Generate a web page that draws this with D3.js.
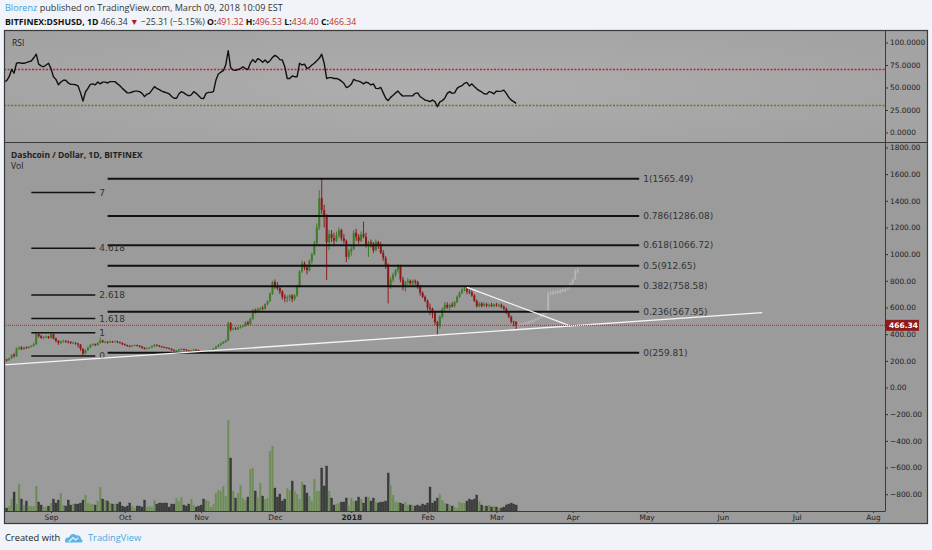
<!DOCTYPE html>
<html>
<head>
<meta charset="utf-8">
<script src="https://cdn.jsdelivr.net/npm/d3@7"></script>
<style>
  body { margin: 0; background: #f0f3f7; }
  svg { display: block; }
  .axis text { font-family: "DejaVu Sans", sans-serif; font-size: 7.4px; fill: #1e1e1e; }
  .axis line { stroke: #333; }
  .axis path { display: none; }
  .fib-label { font-family: "DejaVu Sans", sans-serif; font-size: 9px; fill: #333; }
</style>
</head>
<body>
<svg id="chart"></svg>
<script>
/* global d3 */

// ---- data ----------------------------------------------------------------
// daily candles from 13 Aug 2017 to 9 Mar 2018: [open, high, low, close]
var ohlc = [
  [195,215,190,210],[210,215,195,205],[205,225,200,218],[218,250,215,245],[245,260,225,235],
  [235,300,230,292],[292,310,280,300],[300,310,280,288],[288,305,282,300],[300,308,290,296],
  [296,312,292,306],[306,318,300,312],[312,335,305,325],[325,410,320,402],[402,405,375,385],
  [385,395,365,372],[372,385,362,378],[378,390,370,382],[382,388,365,372],
  // Sep
  [372,410,368,400],[400,405,360,368],[368,375,340,350],[350,355,320,335],[335,352,325,345],
  [345,358,335,350],[350,355,335,345],[345,352,330,340],[340,348,325,335],[335,345,325,336],
  [336,340,320,330],[330,335,300,322],[322,325,275,290],[290,295,240,255],[255,285,250,280],
  [280,305,275,300],[300,325,295,320],[320,332,312,325],[325,330,310,318],[318,340,315,335],
  [335,375,330,352],[352,358,335,340],[340,350,332,342],[342,348,330,338],[338,352,335,345],
  [345,350,335,342],[342,352,338,346],[346,350,332,340],[340,345,328,334],[334,338,318,325],
  // Oct
  [325,330,312,318],[318,322,305,312],[312,318,302,310],[310,320,305,315],[315,322,310,318],
  [318,322,308,314],[314,318,300,308],[308,312,290,298],[298,302,285,290],[290,300,286,295],
  [295,305,290,300],[300,315,296,310],[310,325,305,320],[320,324,308,314],[314,318,302,308],
  [308,312,298,304],[304,308,295,300],[300,304,290,296],[296,300,285,290],[290,294,276,282],
  [282,286,270,275],[275,282,268,276],[276,290,272,286],[286,294,280,288],[288,292,278,284],
  [284,288,272,278],[278,282,268,274],[274,282,270,277],[277,290,274,284],[284,288,274,280],
  [280,284,268,272],
  // Nov
  [272,276,262,268],[268,272,258,264],[264,280,262,276],[276,282,268,278],[278,284,270,280],
  [280,295,276,290],[290,312,286,305],[305,325,300,318],[318,338,312,330],[330,348,325,340],
  [340,362,335,352],[352,495,348,482],[482,490,420,436],[436,452,428,442],[442,455,432,438],
  [438,458,432,450],[450,465,442,458],[458,470,448,462],[462,495,455,488],[488,500,468,475],
  [475,525,470,515],[515,590,508,578],[578,592,555,566],[566,600,558,590],[590,605,572,595],
  [595,612,580,590],[590,632,585,625],[625,655,615,648],[648,712,640,705],[705,800,695,792],
  // Dec
  [792,810,740,760],[760,790,730,745],[745,760,700,720],[720,730,660,680],[680,700,640,670],
  [670,690,640,675],[675,700,650,690],[690,700,640,665],[665,700,650,690],[690,770,680,760],
  [760,880,750,870],[870,950,860,930],[930,945,880,900],[900,920,850,880],[880,960,870,950],
  [950,1010,930,1000],[1000,1100,990,1080],[1080,1230,1070,1200],[1200,1480,1180,1420],[1420,1565.49,1300,1330],
  [1330,1370,1200,1280],[1280,1300,806,1090],[1090,1180,1030,1150],[1150,1180,1090,1120],[1120,1160,1060,1100],
  [1100,1170,1090,1140],[1140,1200,1120,1180],[1180,1190,1100,1120],[1120,1150,1080,1100],[1100,1110,940,980],
  [980,1040,960,1020],
  // Jan
  [1020,1060,990,1040],[1040,1180,1030,1160],[1160,1190,1100,1130],[1130,1150,1080,1100],[1100,1170,1090,1150],
  [1150,1244,1120,1130],[1130,1160,1050,1070],[1070,1100,980,1090],[1090,1110,1050,1080],[1080,1090,1010,1030],
  [1030,1110,1020,1090],[1090,1100,1040,1060],[1060,1090,1000,1010],[1010,1030,950,970],[970,985,890,920],
  [920,930,631,760],[760,830,740,810],[810,860,790,845],[845,890,830,880],[880,925,860,915],
  [915,920,790,810],[810,830,730,760],[760,800,720,790],[790,820,770,800],[800,810,770,780],
  [780,810,760,800],[800,810,770,790],[790,800,740,760],[760,770,690,710],[710,720,670,680],
  [680,690,640,650],
  // Feb
  [650,660,580,600],[600,630,545,590],[590,600,520,560],[560,570,470,490],[490,500,394,460],
  [460,540,440,530],[530,600,520,590],[590,640,570,620],[620,640,590,600],[600,630,580,620],
  [620,640,600,610],[610,650,600,640],[640,690,630,680],[680,720,670,710],[710,745,700,735],
  [735,755,720,740],[740,750,700,720],[720,745,700,715],[715,730,680,690],[690,700,640,650],
  [650,660,600,610],[610,640,600,630],[630,640,600,612],[612,640,605,625],[625,635,600,615],
  [615,630,600,620],[620,635,605,610],[610,630,600,622],
  // Mar
  [622,635,605,615],[615,630,600,620],[620,630,595,605],[605,615,580,590],[590,600,550,560],
  [560,570,520,530],[530,540,480,495],[495,500,460,491.32],[491.32,496.53,434.40,466.34]
];

// daily volume, same days as the candles
var volume = [
  3,3,5,12,19,7,27,12,6,10,5,5,5,25,9,6,4,4,5,
  8,12,8,11,18,6,5,11,6,7,7,7,8,11,16,8,7,7,6,10,24,12,11,10,8,7,7,7,9,5,
  4,5,8,5,3,5,5,4,11,4,5,4,11,7,8,8,8,8,4,7,7,13,10,14,6,5,7,12,6,4,5,
  6,12,11,10,4,7,18,21,20,25,15,91,53,20,13,18,26,13,11,14,42,43,20,14,28,15,12,13,60,65,
  23,14,17,10,12,23,21,30,20,17,12,29,26,18,15,10,32,20,20,43,25,45,20,13,6,7,8,9,9,13,5,
  13,10,10,14,12,8,14,14,10,13,9,8,9,9,10,38,26,16,9,9,8,7,9,6,6,6,5,6,5,7,6,
  8,24,8,10,13,17,11,8,7,6,5,4,3,9,8,8,10,12,11,12,16,10,6,5,5,6,4,5,
  4,3,3,4,6,7,8,7,6
];

// RSI(14), same days as the candles
var rsi = [
  56.5,57.6,62,70,66,77,77.6,77,77,77.6,78.7,79.4,83,87,76,74,73,75,77,
  71,62,59,53,56,58,58,55,53.5,53.5,53,51.7,44,35,45,49,53.5,54,53,56,54,56,56,55,56.5,56.5,56.5,54,52,49,
  46.5,44,44,45,46,46,45.4,43.5,40,42.6,43.5,47,51,49,47.6,46,45,44,43,40,38,38,43,45.4,44,42,40.7,41.7,45.4,43.5,40.7,
  38,37.6,43.5,44.6,44.6,45.4,58,65,67,68.7,75,91,72,69.4,69,70,71,73,71,70,77,81,78,82,80.6,78,80.6,77.6,79.8,83.5,
  85.7,84,81,80.6,73,60,60,62.8,62,62,77,75,76,71,72.4,75,77,79.8,82.4,87,77,60,61,61,60,60,59,57,54.6,50,51,
  53.5,59,57.6,57,56,54,56,55,52.8,54,49,48.7,50,44,38,35.4,39,41.3,44,46,42.6,40.4,40.7,40.7,40.7,40.7,43.5,44,39.8,38,36,
  35.4,34.3,36,34.3,28.7,34,35.4,38,43.5,45.4,43.5,44,49,51,52,54.6,55.7,51.7,54,51,48.5,46.5,45,43,42.6,45.4,44.6,43,
  46,45.7,46,47,43.5,39,36,34.3,32.4
];

// projected "bars pattern" drawn after the last candle
var ghost = [
  [466,490,455,475],[475,485,462,470],[470,488,465,482],[482,492,470,478],[478,500,472,495],
  [495,505,485,490],[490,510,486,505],[505,520,498,515],[515,530,505,525],[525,545,518,540],
  [540,560,530,555],[555,575,545,565],[565,720,560,705],[705,725,690,712],[712,730,695,705],
  [705,728,700,720],[720,735,705,712],[712,738,708,730],[730,742,715,722],[722,745,718,738],
  [738,760,730,752],[752,790,745,780],[780,820,770,810],[810,890,805,875],[875,895,855,870]
];

var fibLevels = [1, 0.786, 0.618, 0.5, 0.382, 0.236, 0];
var fibValues = [1565.49, 1286.08, 1066.72, 912.65, 758.58, 567.95, 259.81];
var extLabels = ["0", "1", "1.618", "2.618", "4.618", "7"];
var extValues = [236, 411, 518, 694, 1044, 1462];

var priceTicks = [-800, -600, -400, -200, 0, 200, 400, 600, 800, 1000, 1200, 1400, 1600, 1800];
var rsiTicks = [0, 25, 50, 75, 100];
var lastPrice = 466.34;

// ---- layout --------------------------------------------------------------
var width = 932, height = 550,
  frame = { left: 4, right: 928, top: 30, bottom: 524 },
  axisX = 885,
  rsiBottom = 142,
  timeY = 511;

var svg = d3.select("#chart").attr("width", width).attr("height", height);

var startDay = new Date(2017, 7, 13);
var days = d3.timeDay.range(startDay, d3.timeDay.offset(startDay, ohlc.length));
var ghostDays = d3.timeDay.range(d3.timeDay.offset(startDay, ohlc.length),
  d3.timeDay.offset(startDay, ohlc.length + ghost.length));

var x = d3.scaleTime()
  .domain([new Date(2017, 7, 12, 21, 40), new Date(2018, 7, 5, 21)])
  .range([frame.left, axisX]);
var yP = d3.scaleLinear().domain([-926, 1841]).range([timeY, rsiBottom]);
var yR = d3.scaleLinear().domain([-10.6, 113.9]).range([rsiBottom, frame.top]);
var yV = d3.scaleLinear().domain([0, 100]).range([timeY, timeY - 100]);

// header
var head = svg.append("text")
  .attr("x", 5).attr("y", 11)
  .style("font-family", "'Open Sans', sans-serif").style("font-size", "9.1px").style("fill", "#333");
head.append("tspan").style("fill", "#3d9fdc").text("Blorenz");
head.append("tspan").text(" published on TradingView.com, March 09, 2018 10:09 EST");

var head2 = svg.append("text")
  .attr("x", 5).attr("y", 24.5)
  .style("font-family", "'Open Sans', sans-serif").style("font-size", "8.7px").style("fill", "#333");
head2.append("tspan").style("font-weight", "bold").style("fill", "#111").text("BITFINEX:DSHUSD, 1D");
head2.append("tspan").text(" 466.34 ");
head2.append("tspan").style("fill", "#b01c1c").text("\u25BC");
head2.append("tspan").text(" \u221225.31 (\u22125.15%) ");
[["O:", "491.32"], ["H:", "496.53"], ["L:", "434.40"], ["C:", "466.34"]].forEach(function (p, i) {
  head2.append("tspan").style("font-weight", "bold").style("fill", "#111").text((i ? " " : "") + p[0]);
  head2.append("tspan").style("fill", "#c0312b").text(p[1]);
});

// panels
var defs = svg.append("defs");
var grad = defs.append("radialGradient").attr("id", "rsiBg").attr("cx", "50%").attr("cy", "50%").attr("r", "70%");
grad.append("stop").attr("offset", "0%").attr("stop-color", "#aeaeae");
grad.append("stop").attr("offset", "100%").attr("stop-color", "#a1a1a1");

svg.append("rect").attr("x", frame.left).attr("y", frame.top)
  .attr("width", frame.right - frame.left).attr("height", frame.bottom - frame.top)
  .attr("fill", "#9b9b9b");
svg.append("rect").attr("x", frame.left).attr("y", frame.top)
  .attr("width", axisX - frame.left).attr("height", rsiBottom - frame.top)
  .attr("fill", "url(#rsiBg)");
svg.append("rect").attr("x", axisX).attr("y", frame.top)
  .attr("width", frame.right - axisX).attr("height", rsiBottom - frame.top)
  .attr("fill", "#a3a3a3");

defs.append("clipPath").attr("id", "clipMain").append("rect")
  .attr("x", frame.left).attr("y", rsiBottom).attr("width", axisX - frame.left).attr("height", timeY - rsiBottom);
defs.append("clipPath").attr("id", "clipRsi").append("rect")
  .attr("x", frame.left).attr("y", frame.top).attr("width", axisX - frame.left).attr("height", rsiBottom - frame.top);

// ---- RSI pane ------------------------------------------------------------
var rsiG = svg.append("g").attr("clip-path", "url(#clipRsi)");
rsiG.append("line").attr("x1", frame.left).attr("x2", axisX)
  .attr("y1", yR(70)).attr("y2", yR(70))
  .attr("stroke", "#c41f2f").attr("stroke-width", 1.3).attr("stroke-dasharray", "2,1.5");
rsiG.append("line").attr("x1", frame.left).attr("x2", axisX)
  .attr("y1", yR(30)).attr("y2", yR(30))
  .attr("stroke", "#66782e").attr("stroke-width", 1.3).attr("stroke-dasharray", "2,1.5");
rsiG.append("path").datum(rsi)
  .attr("fill", "none").attr("stroke", "#111").attr("stroke-width", 1.4)
  .attr("stroke-linejoin", "round")
  .attr("d", d3.line().x(function (d, i) { return x(days[i]); }).y(function (d) { return yR(d); }));

svg.append("text").attr("x", 12).attr("y", 45.5)
  .style("font-family", "'Open Sans', sans-serif").style("font-size", "8.5px").style("fill", "#222")
  .text("RSI");

svg.append("g").attr("class", "axis")
  .attr("transform", "translate(" + axisX + ",0)")
  .call(d3.axisRight(yR).tickValues(rsiTicks).tickFormat(d3.format(".4f")).tickSize(3).tickPadding(2));

// ---- main pane -----------------------------------------------------------
var main = svg.append("g").attr("clip-path", "url(#clipMain)");

// volume
main.append("g").selectAll("rect").data(volume).enter().append("rect")
  .attr("x", function (d, i) { return x(days[i]) - 1; })
  .attr("width", 2)
  .attr("y", function (d) { return yV(d); })
  .attr("height", function (d) { return yV(0) - yV(d); })
  .attr("fill", function (d, i) { return ohlc[i][3] >= ohlc[i][0] ? "#6e8c58" : "#3b3d3b"; })
  .attr("stroke", function (d, i) { return ohlc[i][3] >= ohlc[i][0] ? "#7f9a6a" : "#2a2a2a"; })
  .attr("stroke-width", 0.3);

function drawCandles(g, rows, dates, up, down) {
  var c = g.append("g").selectAll("g").data(rows).enter().append("g");
  c.append("line")
    .attr("x1", function (d, i) { return x(dates[i]); })
    .attr("x2", function (d, i) { return x(dates[i]); })
    .attr("y1", function (d) { return yP(d[1]); })
    .attr("y2", function (d) { return yP(d[2]); })
    .attr("stroke", function (d) { return d[3] >= d[0] ? up : down; })
    .attr("stroke-width", 1);
  c.append("rect")
    .attr("x", function (d, i) { return x(dates[i]) - 1; })
    .attr("width", 2)
    .attr("y", function (d) { return yP(Math.max(d[0], d[3])); })
    .attr("height", function (d) { return Math.max(0.8, Math.abs(yP(d[0]) - yP(d[3]))); })
    .attr("fill", function (d) { return d[3] >= d[0] ? up : down; });
}

drawCandles(main, ghost, ghostDays, "#b4b4b4", "#bcbcbc");
drawCandles(main, ohlc, days, "#3e7d27", "#8e1b1b");

// fib retracement
var fibStart = new Date(2017, 8, 24), fibEnd = new Date(2018, 3, 28);
main.append("g").selectAll("line").data(fibValues).enter().append("line")
  .attr("x1", x(fibStart)).attr("x2", x(fibEnd))
  .attr("y1", function (d) { return yP(d); }).attr("y2", function (d) { return yP(d); })
  .attr("stroke", "#111").attr("stroke-width", 2);
main.append("g").selectAll("text").data(fibValues).enter().append("text")
  .attr("class", "fib-label")
  .attr("x", x(fibEnd) + 4).attr("y", function (d) { return yP(d); }).attr("dy", "0.35em")
  .text(function (d, i) { return fibLevels[i] + "(" + d.toFixed(2) + ")"; });

// fib extension
var extStart = new Date(2017, 7, 24), extEnd = new Date(2017, 8, 19);
main.append("g").selectAll("line").data(extValues).enter().append("line")
  .attr("x1", x(extStart)).attr("x2", x(extEnd))
  .attr("y1", function (d) { return yP(d); }).attr("y2", function (d) { return yP(d); })
  .attr("stroke", "#111").attr("stroke-width", 1.6);
main.append("g").selectAll("text").data(extValues).enter().append("text")
  .attr("class", "fib-label")
  .attr("x", x(extEnd) + 4).attr("y", function (d) { return yP(d); }).attr("dy", "0.35em")
  .text(function (d, i) { return extLabels[i]; });

// trend lines
var trends = [
  [[new Date(2017, 7, 13), 169], [new Date(2018, 5, 17), 561]],
  [[new Date(2018, 1, 17), 751], [new Date(2018, 2, 31), 463]]
];
main.append("g").selectAll("line").data(trends).enter().append("line")
  .attr("x1", function (d) { return x(d[0][0]); }).attr("y1", function (d) { return yP(d[0][1]); })
  .attr("x2", function (d) { return x(d[1][0]); }).attr("y2", function (d) { return yP(d[1][1]); })
  .attr("stroke", "#f4f4f4").attr("stroke-width", 1.3);

// last price line
main.append("line").attr("x1", frame.left).attr("x2", axisX)
  .attr("y1", yP(lastPrice)).attr("y2", yP(lastPrice))
  .attr("stroke", "#a82a2a").attr("stroke-width", 1).attr("stroke-dasharray", "1,1");

svg.append("text").attr("x", 11).attr("y", 157.5)
  .style("font-family", "'Open Sans', sans-serif").style("font-size", "8.5px")
  .style("font-weight", "bold").style("fill", "#222")
  .text("Dashcoin / Dollar, 1D, BITFINEX");
svg.append("text").attr("x", 11).attr("y", 169)
  .style("font-family", "'Open Sans', sans-serif").style("font-size", "8.5px").style("fill", "#222")
  .text("Vol");

// price axis
svg.append("g").attr("class", "axis")
  .attr("transform", "translate(" + axisX + ",0)")
  .call(d3.axisRight(yP).tickValues(priceTicks).tickFormat(d3.format(".2f")).tickSize(3).tickPadding(2));

svg.append("rect").attr("x", axisX).attr("y", yP(lastPrice) - 5.5)
  .attr("width", 34).attr("height", 11).attr("fill", "#8e1b1b");
svg.append("text").attr("x", axisX + 4).attr("y", yP(lastPrice)).attr("dy", "0.35em")
  .style("font-family", "'DejaVu Sans', sans-serif").style("font-size", "7.5px")
  .style("font-weight", "bold").style("fill", "#fff")
  .text(lastPrice.toFixed(2));

// time axis
svg.append("g").attr("class", "axis")
  .attr("transform", "translate(0," + timeY + ")")
  .call(d3.axisBottom(x).ticks(d3.timeMonth.every(1))
    .tickFormat(function (d) { return d.getMonth() === 0 ? d.getFullYear() : d3.timeFormat("%b")(d); })
    .tickSize(2).tickPadding(2))
  .selectAll("text").style("font-weight", function (d) { return d.getMonth() === 0 ? "bold" : null; });

// borders
var b = svg.append("g").attr("stroke", "#3a3a3a").attr("fill", "none");
b.append("rect").attr("x", frame.left + 0.5).attr("y", frame.top + 0.5)
  .attr("width", frame.right - frame.left - 1).attr("height", frame.bottom - frame.top - 1)
  .attr("stroke-width", 1.2);
b.append("line").attr("x1", frame.left).attr("x2", frame.right)
  .attr("y1", rsiBottom + 0.5).attr("y2", rsiBottom + 0.5).attr("stroke-width", 1.2);
b.append("line").attr("x1", axisX + 0.5).attr("x2", axisX + 0.5)
  .attr("y1", frame.top).attr("y2", timeY);
b.append("line").attr("x1", frame.left).attr("x2", axisX + 0.5)
  .attr("y1", timeY + 0.5).attr("y2", timeY + 0.5);

// footer
svg.append("text").attr("x", 5).attr("y", 541)
  .style("font-family", "'Open Sans', sans-serif").style("font-size", "9.3px").style("fill", "#222")
  .text("Created with");
svg.append("path")
  .attr("transform", "translate(65,533)")
  .attr("d", "M0,8 C0,5 2,4 4,4.5 C5,1 9,0 11,2.5 C13,1.5 16,3 16,6 C18,6.5 18,9 16.5,9.5 L1.5,9.5 C0.5,9.5 0,9 0,8 Z")
  .attr("fill", "#5db3e6");
svg.append("path")
  .attr("transform", "translate(65,533)")
  .attr("d", "M4,8.5 L8,4.5 L10.5,7 L13,5")
  .attr("fill", "none").attr("stroke", "#e8f4fb").attr("stroke-width", 1.2);
svg.append("text").attr("x", 88).attr("y", 541)
  .style("font-family", "'Open Sans', sans-serif").style("font-size", "9.3px").style("fill", "#4aa8e0")
  .text("TradingView");
</script>
</body>
</html>
